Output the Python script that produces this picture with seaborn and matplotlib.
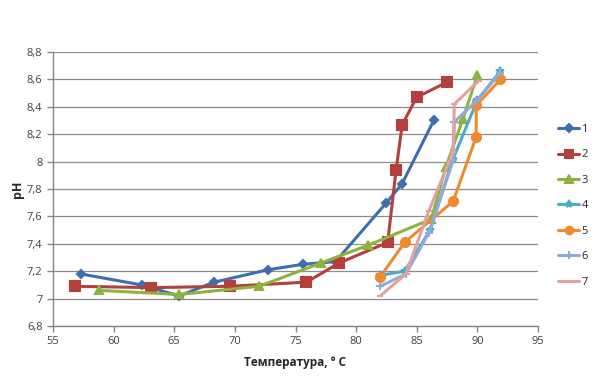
#!/usr/bin/env python3
"""pH vs temperature, seven runs."""
import matplotlib
matplotlib.use("Agg")
import matplotlib.pyplot as plt
import pandas as pd
import seaborn as sns

# series
T1 = [57.3, 62.3, 65.4, 68.3, 72.7, 75.6, 78.3, 82.5, 83.8, 86.4]
PH1 = [7.18, 7.10, 7.02, 7.12, 7.21, 7.25, 7.27, 7.70, 7.84, 8.30]
T2 = [56.8, 63.1, 69.6, 75.9, 78.6, 82.6, 83.3, 83.8, 85.0, 87.5]
PH2 = [7.09, 7.08, 7.09, 7.12, 7.26, 7.41, 7.94, 8.27, 8.47, 8.58]
T3 = [58.8, 65.4, 72.0, 77.1, 81.0, 86.2, 87.4, 88.8, 90.0]
PH3 = [7.06, 7.03, 7.09, 7.26, 7.39, 7.58, 7.96, 8.31, 8.63]
T4 = [82.0, 84.0, 86.1, 88.0, 90.0, 91.9]
PH4 = [7.17, 7.20, 7.50, 8.02, 8.45, 8.66]
T5 = [82.0, 84.0, 88.0, 89.9, 89.9, 91.9]
PH5 = [7.16, 7.41, 7.71, 8.18, 8.41, 8.60]
T6 = [82.0, 84.1, 86.0, 88.0, 88.1, 89.9, 91.9]
PH6 = [7.09, 7.18, 7.48, 8.01, 8.29, 8.44, 8.65]
T7 = [82.0, 84.1, 86.0, 88.0, 88.1, 90.1]
PH7 = [7.02, 7.18, 7.64, 8.07, 8.42, 8.59]

SERIES = ["1", "2", "3", "4", "5", "6", "7"]
X_TICKS = [55, 60, 65, 70, 75, 80, 85, 90, 95]
Y_TICKS = [6.8, 7.0, 7.2, 7.4, 7.6, 7.8, 8.0, 8.2, 8.4, 8.6, 8.8]

COLORS = ["#3F6EB0", "#B3403D", "#8DB33E", "#4BACC6", "#F08A2E", "#8EABD8", "#E3A1A0"]
MARKERS = ["D", "s", "^", "*", "o", "+", "_"]
MSIZE = [4.5, 6.5, 6, 6, 6.5, 6, 5]


def main() -> None:
    sns.set_theme(style="white")
    plt.rcParams["font.family"] = ["Open Sans", "DejaVu Sans"]

    frames = []
    for name, t, ph in zip(SERIES, [T1, T2, T3, T4, T5, T6, T7],
                           [PH1, PH2, PH3, PH4, PH5, PH6, PH7]):
        frames.append(pd.DataFrame({"series": name, "temp": t, "ph": ph}))
    df = pd.concat(frames, ignore_index=True)

    fig = plt.figure(figsize=(5.98, 3.76), dpi=100)
    ax = fig.add_axes([53 / 598, 50 / 376, 485 / 598, 274 / 376])

    for i, name in enumerate(SERIES):
        sub = df[df["series"] == name]
        sns.lineplot(data=sub, x="temp", y="ph", ax=ax, sort=False, estimator=None,
                     color=COLORS[i], lw=2.2, marker=MARKERS[i], ms=MSIZE[i],
                     mec=COLORS[i], mew=1.5, label=name)

    ax.set_xlim(55, 95)
    ax.set_ylim(6.8, 8.8)
    ax.set_xticks(X_TICKS)
    ax.set_yticks(Y_TICKS)
    ax.set_yticklabels([f"{v:g}".replace(".", ",") for v in Y_TICKS])
    ax.tick_params(axis="both", labelsize=8, colors="#868686", labelcolor="#404040",
                   length=4, width=1, direction="out", left=True, bottom=True)
    ax.yaxis.grid(True, color="#8c8c8c", lw=0.9)
    ax.set_axisbelow(True)
    for side in ("top", "right"):
        ax.spines[side].set_visible(False)
    for side in ("left", "bottom"):
        ax.spines[side].set_color("#868686")
        ax.spines[side].set_linewidth(1)

    ax.set_xlabel("Температура, ° C", fontsize=8.5, fontweight="bold", labelpad=6)
    ax.set_ylabel("pH", fontsize=9, fontweight="bold", labelpad=2)

    handles, labels = ax.get_legend_handles_labels()
    ax.legend_.remove()
    fig.legend(handles, labels, loc="upper left", bbox_to_anchor=(548 / 598, 1 - 114 / 376),
               frameon=False, fontsize=8, handlelength=1.9, handletextpad=0.2,
               labelspacing=1.3, markerscale=0.85)

    fig.savefig("out.png", dpi=100)
    plt.close(fig)


if __name__ == "__main__":
    main()
